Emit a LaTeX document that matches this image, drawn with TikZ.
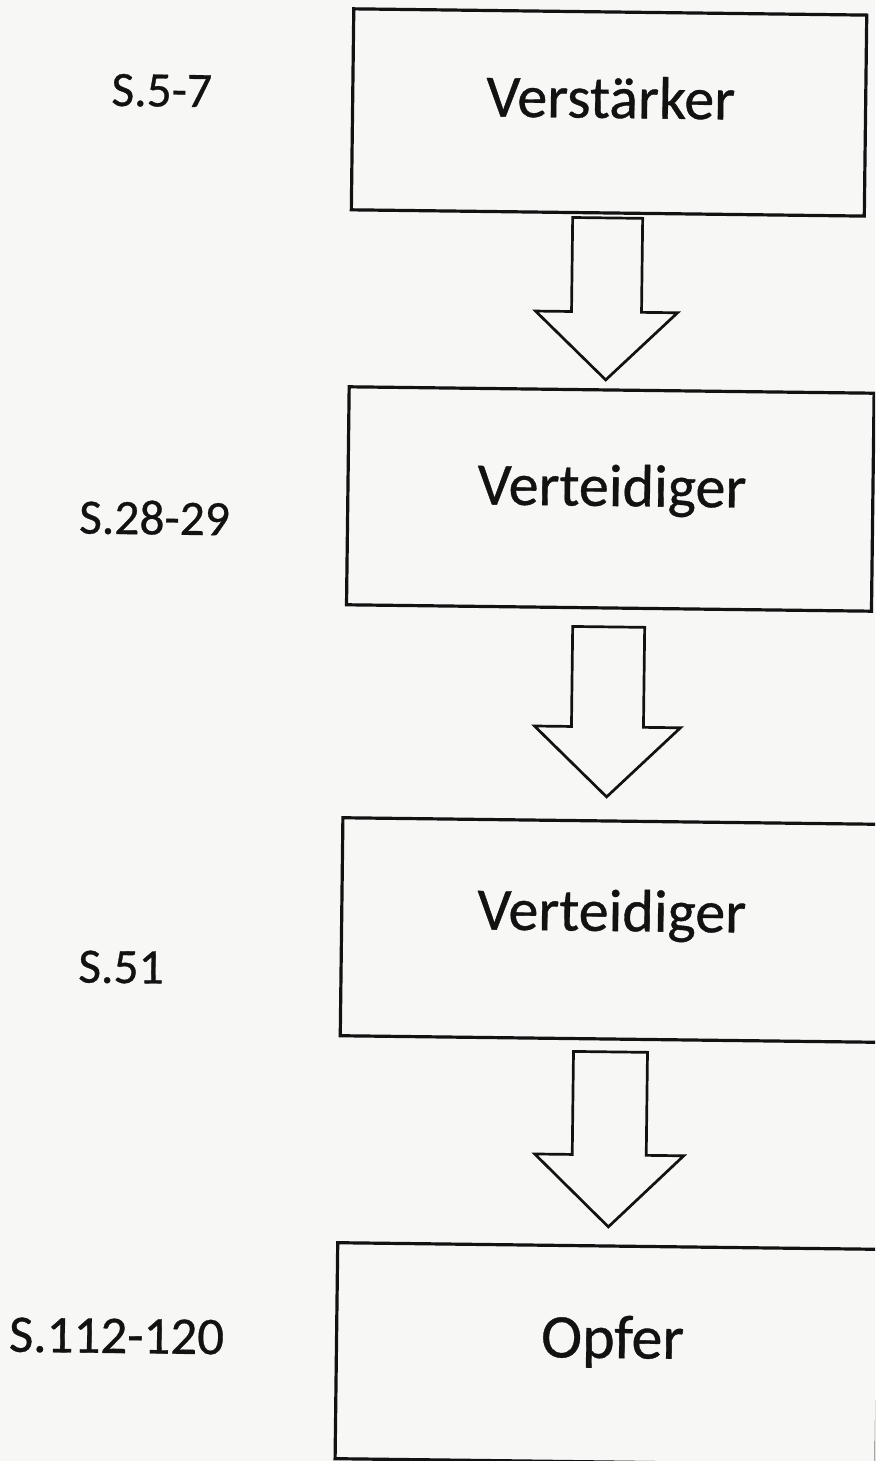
\documentclass[tikz,border=0pt]{standalone}
\usepackage{fontspec}
\setmainfont{Carlito}[FakeBold=0.6]
\newfontfamily\inkfont{Carlito}[FakeBold=0.6]
\definecolor{paper}{RGB}{247,247,245}
\definecolor{ink}{RGB}{18,18,18}

% downward block arrow hanging below a box:
% #1 box above, #2 gap, #3 shaft length, #4 head length, #5 shaft half width, #6 head half width
\newcommand{\flowarrow}[6]{%
  \path (#1.south) ++(0,#2) coordinate (#1-arrowtop);
  \draw[arrowline] (#1-arrowtop) ++(-#5,0) -- ++(0,#3) -- ++(-#6+#5,0)
    -- ++(#6,#4) -- ++(#6,-#4) -- ++(-#6+#5,0) -- ++(0,-#3) -- cycle;
}

\tikzset{
  stage/.style={draw=ink, line width=3.2bp, rectangle, inner sep=0pt, outer sep=0pt},
  arrowline/.style={draw=ink, line width=2.7bp, line join=miter},
  boxtext/.style={text=ink, inner sep=0pt, anchor=base, font=\inkfont\fontsize{60bp}{70bp}\selectfont},
  pagelabel/.style={text=ink, inner sep=0pt, anchor=base, font=\inkfont\fontsize{49.5bp}{58bp}\selectfont},
}

\begin{document}
\begin{tikzpicture}[x=1bp, y=-1bp]
  \useasboundingbox (0,0) rectangle (875,1461);
  \fill[paper] (0,0) rectangle (875,1461);
  \clip (0,0) rectangle (875,1461);

  \begin{scope}[rotate around={-0.7:(610,730)}, transform shape]
    % stages
    \node[stage, minimum width=513bp, minimum height=201bp] (b1) at (601.5,112.5) {};
    \node[stage, minimum width=525bp, minimum height=218bp] (b2) at (607.5,499) {};
    \node[stage, minimum width=541bp, minimum height=218bp] (b3) at (614.5,930) {};
    \node[stage, minimum width=541bp, minimum height=216bp] (b4) at (614.5,1354) {};

    \node[boxtext] (t1) at (603,118) {Verstärker};
    \node[boxtext] (t2) at (609,506) {Verteidiger};
    \node[boxtext] (t3) at (614,931) {Verteidiger};
    \node[boxtext, font=\inkfont\fontsize{62bp}{72bp}\selectfont] (t4) at (620,1358) {Opfer};

    % arrows between the stages
    \flowarrow{b1}{5}{94}{68}{35}{71}
    \flowarrow{b2}{19}{100}{70}{36}{73}
    \flowarrow{b3}{13}{103}{72}{37}{74.5}

    % page references
    \node[pagelabel] (p1) at (154,112) {S.5-7};
    \node[pagelabel] (p2) at (152,540) {S.28-29};
    \node[pagelabel] (p3) at (124,989) {S.51};
    \node[pagelabel, font=\inkfont\fontsize{53bp}{62bp}\selectfont] (p4) at (124,1359) {S.112-120};
  \end{scope}
\end{tikzpicture}
\end{document}
